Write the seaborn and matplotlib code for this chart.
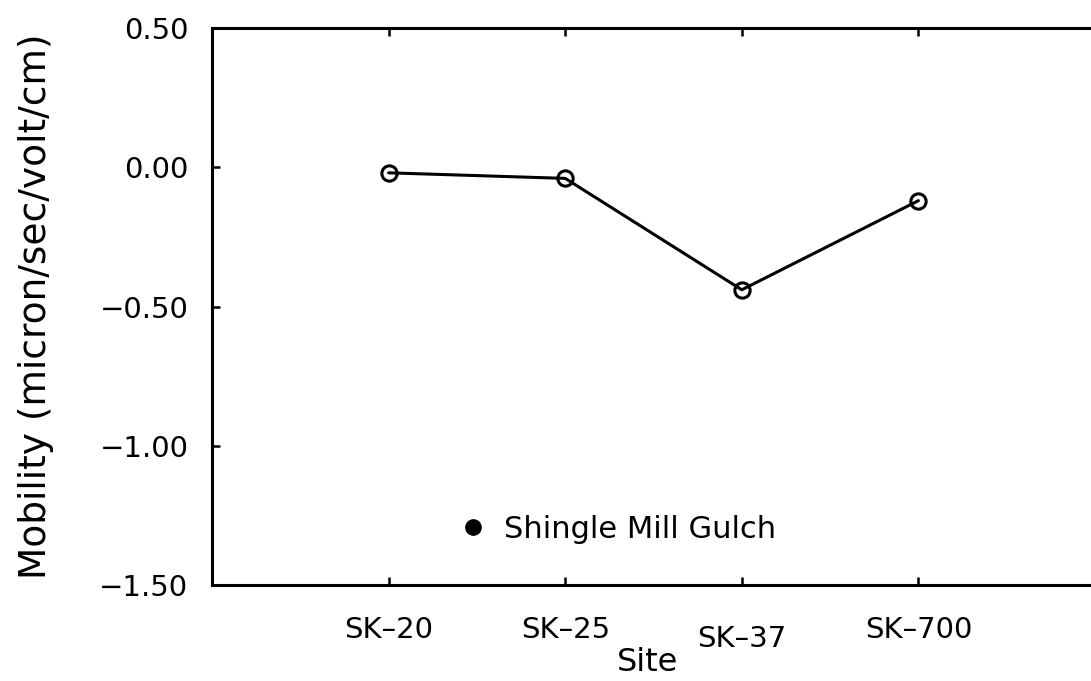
import numpy as np
import pandas as pd
import matplotlib
matplotlib.use("Agg")
import matplotlib.pyplot as plt
import matplotlib.transforms as mtransforms
import seaborn as sns
from matplotlib.lines import Line2D

# values
sites = ["SK\u201320", "SK\u201325", "SK\u201337", "SK\u2013700"]
mobility = [-0.02, -0.04, -0.44, -0.12]
yticks = [0.50, 0.00, -0.50, -1.00, -1.50]
ytick_labels = ["0.50", "0.00", "\u22120.50", "\u22121.00", "\u22121.50"]
legend_label = "Shingle Mill Gulch"

df = pd.DataFrame({"pos": np.arange(len(sites)), "mobility": mobility})

sns.set_theme(style="white")
plt.rcParams["font.family"] = ["DejaVu Sans"]
plt.rcParams["text.color"] = "black"
plt.rcParams["axes.labelcolor"] = "black"
plt.rcParams["xtick.color"] = "black"
plt.rcParams["ytick.color"] = "black"

W, H = 1091, 681
fig = plt.figure(figsize=(W / 100, H / 100), dpi=100)
ax = fig.add_axes([212 / W, 1 - 585 / H, (1095 - 212) / W, (585 - 28) / H])

sns.lineplot(data=df, x="pos", y="mobility", ax=ax, color="black", linewidth=2.2,
             marker="o", markersize=11, markerfacecolor="none",
             markeredgecolor="black", markeredgewidth=2.2)

ax.set_xlim(-1.0, 4.0)
ax.set_ylim(-1.5, 0.5)
ax.set_xticks(df["pos"])
ax.set_xticklabels(sites, fontsize=21)
ax.set_yticks(yticks)
ax.set_yticklabels(ytick_labels, fontsize=21)
ax.tick_params(axis="both", direction="in", length=6, width=1.8, color="black",
               top=True, bottom=True, left=True, right=False)
ax.tick_params(axis="x", pad=22)
ax.tick_params(axis="y", pad=17)

# staggered labels like the original
for lab, dy in zip(ax.get_xticklabels(), [0, 0, -9, 0]):
    lab.set_transform(lab.get_transform() + mtransforms.ScaledTranslation(0, dy / 100, fig.dpi_scale_trans))

for side in ["left", "bottom", "top"]:
    ax.spines[side].set_color("black")
    ax.spines[side].set_linewidth(2.2)
ax.spines["right"].set_visible(False)

ax.set_xlabel("Site", fontsize=23)
ax.xaxis.set_label_coords((648 - 212) / 883, -(671 - 585) / 557)
ax.xaxis.label.set_verticalalignment("baseline")
ax.set_ylabel("Mobility (micron/sec/volt/cm)", fontsize=27)
ax.yaxis.set_label_coords(-(212 - 36) / 883, 0.5)
ax.yaxis.label.set_verticalalignment("center")

handle = Line2D([], [], marker="o", linestyle="none", color="black", markersize=11)
ax.legend(handles=[handle], labels=[legend_label], loc="center left",
          bbox_to_anchor=((458 - 212) / 883, (585 - 529) / 557), frameon=False,
          fontsize=22, handlelength=1.0, handletextpad=0.5, borderpad=0, borderaxespad=0)

fig.savefig("out.png", dpi=100, facecolor="white")
